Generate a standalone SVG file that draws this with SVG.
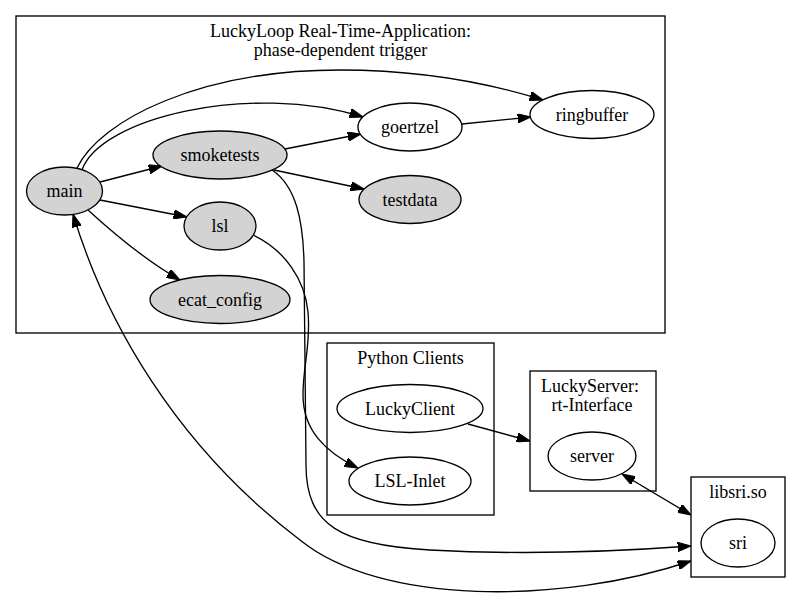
<svg xmlns="http://www.w3.org/2000/svg" width="801" height="598" viewBox="0 0 801 598">
<style>
  text { font-family: "Liberation Serif", "Times New Roman", serif; font-size: 18px; fill: #000; text-anchor: middle; }
  .cluster { fill: none; stroke: #000; stroke-width: 1.33; }
  .node ellipse { stroke: #000; stroke-width: 1.33; }
  .gray ellipse { fill: #d3d3d3; }
  .white ellipse { fill: #fff; }
  .edge { fill: none; stroke: #000; stroke-width: 1.33; }
</style>
<defs>
  <marker id="ah" viewBox="0 0 13.33 9.33" refX="13.33" refY="4.67" markerWidth="13.33" markerHeight="9.33" markerUnits="userSpaceOnUse" orient="auto-start-reverse">
    <path d="M0,0 L13.33,4.67 L0,9.33 z" fill="#000" stroke="#000" stroke-width="1"/>
  </marker>
</defs>
<rect x="0" y="0" width="801" height="598" fill="#fff"/>

<g id="cluster_luckyloop">
  <rect class="cluster" x="16" y="16" width="649" height="317"/>
  <text x="340.5" y="37">LuckyLoop Real-Time-Application:</text>
  <text x="340.5" y="56">phase-dependent trigger</text>
</g>
<g id="cluster_python">
  <rect class="cluster" x="327" y="343" width="167" height="172"/>
  <text x="410.5" y="364">Python Clients</text>
</g>
<g id="cluster_server">
  <rect class="cluster" x="530" y="371" width="126" height="120"/>
  <text x="590" y="392">LuckyServer:</text>
  <text x="592" y="411">rt-Interface</text>
</g>
<g id="cluster_libsri">
  <rect class="cluster" x="691" y="477" width="94" height="100"/>
  <text x="738" y="498">libsri.so</text>
</g>

<g id="connectors">
  <path class="edge" marker-end="url(#ah)" d="M100,182 L162,166"/>
  <path class="edge" marker-end="url(#ah)" d="M100,200 L187,217"/>
  <path class="edge" marker-end="url(#ah)" d="M88,210 C112,232 145,260 180,280"/>
  <path class="edge" marker-end="url(#ah)" d="M82,170 C100,118 250,82 363,117"/>
  <path class="edge" marker-end="url(#ah)" d="M77,168 C100,120 200,70 340,70 C430,70 495,85 543,100"/>
  <path class="edge" marker-end="url(#ah)" d="M285,149 L361,134"/>
  <path class="edge" marker-end="url(#ah)" d="M274,170 L364,189"/>
  <path class="edge" marker-end="url(#ah)" d="M462,124 L531,117"/>
  <path class="edge" marker-end="url(#ah)" d="M253,235 C285,250 305,280 308,312 C311,345 303,365 303,395 C303,430 325,452 358,468"/>
  <path class="edge" marker-end="url(#ah)" d="M272,170 C296,186 303,220 304,262 L306,465 C306,525 340,545 430,550 C520,555 610,552 691,546"/>
  <path class="edge" marker-start="url(#ah)" marker-end="url(#ah)" d="M73,214 C105,320 175,445 300,540 C380,605 560,605 691,561"/>
  <path class="edge" marker-end="url(#ah)" d="M468,424 L530,441"/>
  <path class="edge" marker-start="url(#ah)" marker-end="url(#ah)" d="M622,474 L691,515"/>
</g>

<g id="node_main" class="node gray">
  <ellipse cx="64.5" cy="191" rx="38" ry="24"/>
  <text x="64.5" y="197">main</text>
</g>
<g id="node_smoketests" class="node gray">
  <ellipse cx="220" cy="155" rx="67" ry="24"/>
  <text x="220" y="161">smoketests</text>
</g>
<g id="node_lsl" class="node gray">
  <ellipse cx="220" cy="226" rx="36" ry="24"/>
  <text x="220" y="232">lsl</text>
</g>
<g id="node_ecat_config" class="node gray">
  <ellipse cx="220" cy="299.5" rx="70" ry="24"/>
  <text x="220" y="305.5">ecat_config</text>
</g>
<g id="node_goertzel" class="node white">
  <ellipse cx="410" cy="127" rx="52" ry="24"/>
  <text x="410" y="133">goertzel</text>
</g>
<g id="node_testdata" class="node gray">
  <ellipse cx="410" cy="199.5" rx="51" ry="24"/>
  <text x="410" y="205.5">testdata</text>
</g>
<g id="node_ringbuffer" class="node white">
  <ellipse cx="592" cy="114.5" rx="62" ry="24"/>
  <text x="592" y="120.5">ringbuffer</text>
</g>
<g id="node_LuckyClient" class="node white">
  <ellipse cx="410" cy="408.5" rx="73" ry="24"/>
  <text x="410" y="414.5">LuckyClient</text>
</g>
<g id="node_LSL_Inlet" class="node white">
  <ellipse cx="410" cy="481" rx="61" ry="24"/>
  <text x="410" y="487">LSL-Inlet</text>
</g>
<g id="node_server" class="node white">
  <ellipse cx="592" cy="456" rx="44" ry="24"/>
  <text x="592" y="462">server</text>
</g>
<g id="node_sri" class="node white">
  <ellipse cx="738" cy="543" rx="37" ry="24"/>
  <text x="738" y="549">sri</text>
</g>
</svg>
